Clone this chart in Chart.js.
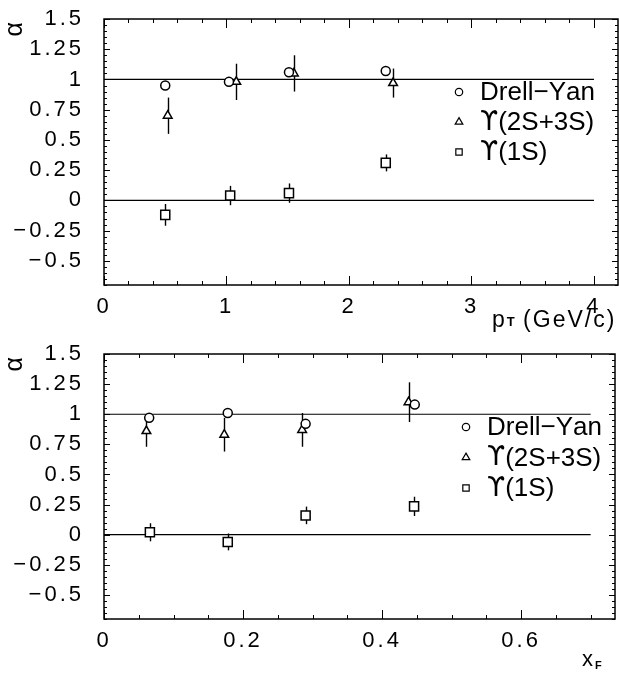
<!DOCTYPE html>
<html>
<head>
<meta charset="utf-8">
<script src="https://cdn.jsdelivr.net/npm/chart.js@4/dist/chart.umd.min.js"></script>
<style>
  html,body{margin:0;padding:0;background:#fff}
  canvas{position:absolute;left:0}
  #c1{top:0}
  #c2{top:337px}
</style>
</head>
<body>
<canvas id="c1" width="619" height="337"></canvas>
<canvas id="c2" width="619" height="338"></canvas>
<script>
// --- datos: alpha vs pT ---
const dyPt = [0.50, 1.02, 1.51, 2.30];
const dyPtAlpha = [0.95, 0.98, 1.06, 1.07];
const ups23Pt = [0.52, 1.08, 1.55, 2.36];
const ups23PtAlpha = [0.70, 0.98, 1.05, 0.97];
const ups23PtErr = [0.15, 0.15, 0.15, 0.12];
const ups1Pt = [0.50, 1.03, 1.51, 2.30];
const ups1PtAlpha = [-0.12, 0.04, 0.06, 0.31];
const ups1PtErr = [0.09, 0.08, 0.08, 0.07];

// --- datos: alpha vs xF ---
const dyXf = [0.065, 0.178, 0.29, 0.447];
const dyXfAlpha = [0.97, 1.01, 0.92, 1.08];
const ups23Xf = [0.061, 0.173, 0.285, 0.438];
const ups23XfAlpha = [0.86, 0.83, 0.87, 1.10];
const ups23XfErr = [0.13, 0.14, 0.14, 0.165];
const ups1Xf = [0.066, 0.178, 0.29, 0.446];
const ups1XfAlpha = [0.02, -0.06, 0.16, 0.235];
const ups1XfErr = [0.075, 0.07, 0.073, 0.08];

// lineas de referencia
const refLevels = [0, 1];
const refPtRange = [0, 4];
const refXfRange = [0, 0.7];

// ticks
const yTicks = [-0.5, -0.25, 0, 0.25, 0.5, 0.75, 1, 1.25, 1.5];
const ptTicks = [0, 1, 2, 3, 4];
const xfTicks = [0, 0.2, 0.4, 0.6];

const legendLabels = ["Drell\u2212Yan", "\u03D2(2S+3S)", "\u03D2(1S)"];
const legendStyles = ["circle", "triangle", "rect"];

const FONT = "'Liberation Sans', Arial, sans-serif";

function pts(xs, ys){ return xs.map((x,i)=>({x, y:ys[i]})); }

function marker(ctx, style, x, y, r){
  ctx.beginPath();
  if(style==="circle") ctx.arc(x, y, r, 0, Math.PI*2);
  else if(style==="triangle"){
    ctx.moveTo(x, y-r);
    ctx.lineTo(x+r*0.866, y+r*0.5);
    ctx.lineTo(x-r*0.866, y+r*0.5);
    ctx.closePath();
  } else {
    const s = r*0.707;
    ctx.rect(x-s, y-s, 2*s, 2*s);
  }
  ctx.fillStyle="#fff"; ctx.fill();
  ctx.strokeStyle="#000"; ctx.lineWidth=1.2; ctx.stroke();
}

// texto con la upsilon en DejaVu (tiene los ganchos)
function mixedText(ctx, txt, x, y, size){
  for(const ch of txt){
    ctx.font = size+"px "+(ch==="\u03D2" ? "'DejaVu Sans'" : FONT);
    ctx.fillText(ch, x, y);
    x += ctx.measureText(ch).width;
  }
}

const paw = {
  id: "paw",
  beforeDraw(chart){ chart.ctx.letterSpacing = "3px"; },
  beforeDatasetsDraw(chart){
    // barras de error
    const ctx = chart.ctx, xs = chart.scales.x, ys = chart.scales.y;
    ctx.save();
    ctx.strokeStyle="#000"; ctx.lineWidth=1.4;
    chart.data.datasets.forEach(ds=>{
      if(!ds.err) return;
      ds.data.forEach((p,j)=>{
        const px = Math.round(xs.getPixelForValue(p.x))+0.5;
        ctx.beginPath();
        ctx.moveTo(px, ys.getPixelForValue(p.y+ds.err[j]));
        ctx.lineTo(px, ys.getPixelForValue(p.y-ds.err[j]));
        ctx.stroke();
      });
    });
    ctx.restore();
  },
  afterDraw(chart, args, o){
    const ctx = chart.ctx, a = chart.chartArea, xs = chart.scales.x, ys = chart.scales.y;
    ctx.save();
    ctx.strokeStyle="#000";
    ctx.lineWidth=1.5;
    ctx.strokeRect(a.left, a.top, a.right-a.left, a.bottom-a.top);
    ctx.lineWidth=1;
    ctx.beginPath();
    // ticks x
    for(let n=0;;n++){
      const v = n*o.xMinor;
      if(v > xs.max+1e-9) break;
      const major = Math.abs(v/o.xMajor - Math.round(v/o.xMajor)) < 1e-6;
      const L = major ? 9 : 4;
      const px = Math.round(xs.getPixelForValue(v))+0.5;
      ctx.moveTo(px, a.bottom); ctx.lineTo(px, a.bottom-L);
      ctx.moveTo(px, a.top); ctx.lineTo(px, a.top+L);
    }
    // ticks y
    for(let n=Math.ceil(ys.min/0.05-1e-9);;n++){
      const v = n*0.05;
      if(v > ys.max+1e-9) break;
      const major = Math.abs(v/0.25 - Math.round(v/0.25)) < 1e-6;
      const L = major ? 6 : 3;
      const py = Math.round(ys.getPixelForValue(v))+0.5;
      ctx.moveTo(a.left, py); ctx.lineTo(a.left+L, py);
      ctx.moveTo(a.right, py); ctx.lineTo(a.right-L, py);
    }
    ctx.stroke();

    // leyenda
    ctx.letterSpacing="0px";
    ctx.fillStyle="#000";
    ctx.textBaseline="middle";
    ctx.textAlign="left";
    legendLabels.forEach((t,i)=>{
      const y = o.legY + i*o.legDy;
      marker(ctx, legendStyles[i], o.legX, y, legendStyles[i]==="rect"?4.5:(legendStyles[i]==="triangle"?4.4:3.7));
      ctx.fillStyle="#000";
      mixedText(ctx, t, o.legX+21, y+1, 26);
    });

    // titulo eje x con subindice
    const t = o.xTitle;
    ctx.textBaseline="alphabetic";
    ctx.letterSpacing="2px";
    ctx.font = t.size+"px "+FONT;
    let x = t.x;
    ctx.fillText(t.main, x, t.y);
    x += ctx.measureText(t.main).width;
    ctx.font = "bold "+t.subSize+"px "+FONT;
    ctx.letterSpacing="0px";
    ctx.fillText(t.sub, x, t.y+t.subDy);
    x += ctx.measureText(t.sub).width;
    if(t.rest){
      ctx.letterSpacing="2px";
      ctx.font = t.size+"px "+FONT;
      ctx.fillText(t.rest, x, t.y);
    }
    ctx.restore();
  }
};

function makeChart(id, cfg){
  const dsets = [
    {label:"DY", data:pts(cfg.dy[0], cfg.dy[1]), pointStyle:"circle", pointRadius:4.5},
    {label:"U23", data:pts(cfg.u23[0], cfg.u23[1]), err:cfg.u23[2], pointStyle:"triangle", pointRadius:5},
    {label:"U1", data:pts(cfg.u1[0], cfg.u1[1]), err:cfg.u1[2], pointStyle:"rect", pointRadius:6.4},
  ].map(d=>({...d, backgroundColor:"#fff", borderColor:"#000", pointBorderWidth:1.5}));
  refLevels.forEach(lv=>{
    dsets.push({type:"line", data:cfg.ref.map(x=>({x, y:lv})), borderColor:"#000",
      borderWidth:1.2, pointRadius:0, showLine:true, fill:false});
  });
  const ch = new Chart(document.getElementById(id), {
    type:"scatter",
    data:{datasets:dsets},
    options:{
      responsive:false, animation:false, events:[],
      layout:{autoPadding:false, padding:{top:cfg.padTop, right:cfg.padRight, left:0, bottom:0}},
      plugins:{legend:{display:false}, tooltip:{enabled:false}, paw:cfg.paw},
      scales:{
        x:{
          type:"linear", min:0, max:cfg.xMax,
          afterBuildTicks:s=>{ s.ticks = cfg.xTicks.map(v=>({value:v})); },
          afterFit:s=>{ s.height = cfg.xAxisH; },
          grid:{display:false}, border:{display:false},
          ticks:{color:"#000", autoSkip:false, maxRotation:0, padding:1,
            font:{family:FONT, size:22}, callback:v=>String(v)}
        },
        y:{
          min:-0.7, max:1.5,
          afterBuildTicks:s=>{ s.ticks = yTicks.map(v=>({value:v})); },
          afterFit:s=>{ s.width = 104; s.paddingTop = 0; s.paddingBottom = 0; },
          grid:{display:false}, border:{display:false},
          title:{display:true, text:"\u03B1", align:"end", color:"#000",
            font:{family:FONT, size:25}, padding:{top:0,bottom:0}},
          ticks:{color:"#000", padding:12, font:{family:FONT, size:22},
            callback:v=>String(v).replace("-", "\u2212")}
        }
      }
    },
    plugins:[paw]
  });
  // si el layout mete margen extra arriba, lo compensamos
  const extra = ch.chartArea.top - cfg.padTop;
  if(Math.abs(extra) > 0.5){
    ch.options.layout.padding.top = cfg.padTop - extra;
    ch.update();
  }
  return ch;
}

makeChart("c1", {
  dy:[dyPt, dyPtAlpha], u23:[ups23Pt, ups23PtAlpha, ups23PtErr], u1:[ups1Pt, ups1PtAlpha, ups1PtErr],
  ref:refPtRange, xMax:4.196, xTicks:ptTicks, padTop:19, padRight:1, xAxisH:52,
  paw:{xMinor:0.2, xMajor:1, legX:459, legY:92, legDy:30,
    xTitle:{main:"p", sub:"T", subDy:-1, rest:" (GeV/c)", x:492, y:327, size:23, subSize:13}}
});

makeChart("c2", {
  dy:[dyXf, dyXfAlpha], u23:[ups23Xf, ups23XfAlpha, ups23XfErr], u1:[ups1Xf, ups1XfAlpha, ups1XfErr],
  ref:refXfRange, xMax:0.735, xTicks:xfTicks, padTop:17, padRight:4, xAxisH:56,
  paw:{xMinor:0.05, xMajor:0.2, legX:466, legY:90, legDy:30.5,
    xTitle:{main:"x", sub:"F", subDy:3, rest:"", x:582, y:329, size:22, subSize:11}}
});
</script>
</body>
</html>
